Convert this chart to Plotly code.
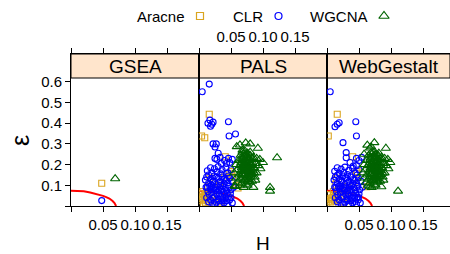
import plotly.graph_objects as go

# ---------------- data ----------------
methods = ["GSEA", "PALS", "WebGestalt"]
networks = ["Aracne", "CLR", "WGCNA"]
x_tick_vals = [0.0, 0.05, 0.10, 0.15, 0.20]
x_tick_text = ["", "0.05", "0.10", "0.15", ""]
y_tick_vals = [0.0, 0.1, 0.2, 0.3, 0.4, 0.5, 0.6]
y_tick_text = ["", "0.1", "0.2", "0.3", "0.4", "0.5", "0.6"]

# boundary curve (same in each panel)
curve_H = [0.0, 0.01, 0.02, 0.03, 0.04, 0.05, 0.055, 0.06, 0.065, 0.068, 0.0705]
curve_eps = [0.074, 0.0735, 0.071, 0.065, 0.058, 0.049, 0.043, 0.036, 0.024, 0.014, 0.0]

# GSEA
gsea_aracne_H = [0.048]
gsea_aracne_eps = [0.110]
gsea_clr_H = [0.048]
gsea_clr_eps = [0.026]
gsea_wgcna_H = [0.069]
gsea_wgcna_eps = [0.132]

# PALS
pals_aracne_H = [0.016, 0.004, 0.009, 0.041, 0.051, 0.017, 0.061, 0.058, 0.003, 0.006, 0.008, 0.010,
                 0.004, 0.012, 0.015, 0.018, 0.020, 0.006, 0.022, 0.025, 0.010, 0.028, 0.030, 0.014,
                 0.035, 0.007, 0.045, 0.040, 0.032, 0.048, 0.052, 0.005, 0.009, 0.013]
pals_aracne_eps = [0.443, 0.338, 0.330, 0.238, 0.166, 0.135, 0.087, 0.100, 0.060, 0.045, 0.030, 0.055,
                   0.025, 0.040, 0.020, 0.065, 0.035, 0.070, 0.050, 0.025, 0.015, 0.080, 0.045, 0.095,
                   0.020, 0.010, 0.060, 0.140, 0.100, 0.155, 0.140, 0.035, 0.050, 0.060]
pals_clr_H = [0.005, 0.016, 0.017, 0.014, 0.020, 0.022, 0.018, 0.046, 0.047, 0.057, 0.022, 0.027,
              0.025, 0.030, 0.025, 0.028, 0.033, 0.040, 0.046, 0.052, 0.048, 0.043, 0.035,
              0.018, 0.024, 0.030, 0.036, 0.042, 0.028, 0.020, 0.034, 0.045, 0.013, 0.050,
              0.012, 0.018, 0.024, 0.030, 0.036, 0.042, 0.048, 0.015, 0.021, 0.027, 0.033, 0.039,
              0.045, 0.052, 0.010,
              0.011, 0.017, 0.023, 0.029, 0.035, 0.041, 0.047, 0.014, 0.020, 0.026, 0.032, 0.038,
              0.044, 0.050, 0.054,
              0.012, 0.018, 0.024, 0.030, 0.036, 0.042, 0.048, 0.021, 0.027, 0.033, 0.039, 0.045,
              0.015, 0.052,
              0.015, 0.022, 0.028, 0.034, 0.040, 0.046, 0.019, 0.025, 0.031, 0.037, 0.043, 0.049,
              0.016, 0.022, 0.028, 0.034, 0.040, 0.046, 0.019, 0.013, 0.025, 0.031, 0.037, 0.043,
              0.050]
pals_clr_eps = [0.552, 0.589, 0.415, 0.400, 0.395, 0.405, 0.385, 0.407, 0.338, 0.348, 0.300, 0.300,
                0.285, 0.255, 0.230, 0.225, 0.235, 0.220, 0.230, 0.225, 0.210, 0.205, 0.205,
                0.185, 0.180, 0.190, 0.175, 0.185, 0.165, 0.160, 0.155, 0.160, 0.170, 0.175,
                0.140, 0.130, 0.145, 0.135, 0.140, 0.125, 0.135, 0.110, 0.115, 0.105, 0.118, 0.108,
                0.112, 0.120, 0.125,
                0.090, 0.095, 0.085, 0.092, 0.080, 0.088, 0.095, 0.070, 0.065, 0.075, 0.060, 0.070,
                0.062, 0.078, 0.090,
                0.040, 0.030, 0.045, 0.035, 0.025, 0.040, 0.030, 0.012, 0.018, 0.008, 0.015, 0.010,
                0.020, 0.015,
                0.150, 0.120, 0.140, 0.100, 0.130, 0.145, 0.100, 0.090, 0.075, 0.095, 0.075, 0.060,
                0.055, 0.040, 0.055, 0.045, 0.055, 0.045, 0.080, 0.090, 0.005, 0.025, 0.035, 0.025,
                0.040]
pals_wgcna_H = [0.059, 0.064, 0.073, 0.068, 0.092, 0.122, 0.111, 0.111, 0.085, 0.056, 0.080,
                0.065, 0.070, 0.075, 0.080, 0.085, 0.090, 0.095, 0.100,
                0.062, 0.068, 0.073, 0.078, 0.083, 0.088, 0.093, 0.058,
                0.064, 0.070, 0.076, 0.081, 0.086, 0.096, 0.060, 0.066,
                0.072, 0.078, 0.084, 0.090, 0.055, 0.063, 0.069, 0.075,
                0.081, 0.087, 0.058, 0.065, 0.071, 0.077, 0.083, 0.060,
                0.067, 0.073, 0.079, 0.057, 0.064, 0.070, 0.076, 0.088,
                0.068, 0.072, 0.076, 0.070, 0.074, 0.078, 0.067, 0.071, 0.075, 0.079,
                0.069, 0.073, 0.077, 0.081, 0.067, 0.071, 0.075, 0.079, 0.083, 0.069,
                0.073, 0.077, 0.081, 0.070, 0.074, 0.078, 0.072, 0.076, 0.080, 0.082,
                0.084, 0.086, 0.068, 0.066, 0.074, 0.080, 0.072, 0.076, 0.070, 0.078]
pals_wgcna_eps = [0.287, 0.295, 0.305, 0.270, 0.279, 0.233, 0.090, 0.072, 0.090, 0.097, 0.300,
                  0.245, 0.250, 0.240, 0.245, 0.235, 0.230, 0.225, 0.210,
                  0.220, 0.225, 0.215, 0.220, 0.210, 0.205, 0.195, 0.200,
                  0.195, 0.200, 0.190, 0.195, 0.185, 0.180, 0.175, 0.170,
                  0.180, 0.165, 0.170, 0.160, 0.160, 0.150, 0.155, 0.145,
                  0.150, 0.140, 0.135, 0.130, 0.125, 0.135, 0.120, 0.115,
                  0.110, 0.105, 0.115, 0.095, 0.100, 0.090, 0.100, 0.125,
                  0.260, 0.265, 0.255, 0.240, 0.235, 0.230, 0.230, 0.220, 0.210, 0.205,
                  0.205, 0.195, 0.185, 0.180, 0.185, 0.175, 0.170, 0.160, 0.155, 0.165,
                  0.155, 0.150, 0.140, 0.145, 0.135, 0.128, 0.125, 0.118, 0.170, 0.200,
                  0.225, 0.160, 0.150, 0.210, 0.250, 0.260, 0.185, 0.200, 0.190, 0.175]

# WebGestalt
web_aracne_H = [0.016, 0.002, 0.040, 0.047, 0.015, 0.046, 0.062, 0.004, 0.008, 0.010, 0.012,
                0.006, 0.015, 0.018, 0.020, 0.022, 0.025, 0.028, 0.030, 0.013, 0.034, 0.009,
                0.038, 0.026, 0.017, 0.042, 0.031, 0.005, 0.011, 0.007]
web_aracne_eps = [0.443, 0.338, 0.238, 0.166, 0.134, 0.158, 0.093, 0.055, 0.040, 0.070, 0.025,
                  0.020, 0.060, 0.030, 0.080, 0.045, 0.020, 0.070, 0.040, 0.105, 0.025, 0.012,
                  0.065, 0.095, 0.050, 0.110, 0.085, 0.035, 0.050, 0.030]
web_clr_H = [0.005, 0.019, 0.016, 0.0125, 0.045, 0.046, 0.025, 0.030, 0.030, 0.046, 0.050, 0.054,
             0.041, 0.036,
             0.016, 0.022, 0.028, 0.034, 0.040, 0.046, 0.026, 0.019, 0.032, 0.044, 0.012, 0.050,
             0.013, 0.019, 0.025, 0.031, 0.037, 0.043, 0.049, 0.016, 0.022, 0.028, 0.034, 0.040,
             0.046, 0.053, 0.011,
             0.012, 0.018, 0.024, 0.030, 0.036, 0.042, 0.048, 0.015, 0.021, 0.027, 0.033, 0.039,
             0.045, 0.051, 0.055,
             0.013, 0.019, 0.025, 0.031, 0.037, 0.043, 0.049, 0.022, 0.028, 0.034, 0.040, 0.046,
             0.016, 0.052,
             0.016, 0.023, 0.029, 0.035, 0.041, 0.047, 0.020, 0.026, 0.032, 0.038, 0.044, 0.050,
             0.017, 0.023, 0.029, 0.035, 0.041, 0.047, 0.020, 0.014, 0.026, 0.032, 0.038, 0.044,
             0.049]
web_clr_eps = [0.552, 0.402, 0.395, 0.383, 0.407, 0.338, 0.306, 0.258, 0.233, 0.230, 0.220, 0.235,
               0.193, 0.210,
               0.185, 0.178, 0.188, 0.172, 0.182, 0.195, 0.162, 0.158, 0.152, 0.160, 0.168, 0.175,
               0.140, 0.130, 0.145, 0.135, 0.140, 0.125, 0.135, 0.110, 0.115, 0.105, 0.118, 0.108,
               0.112, 0.120, 0.125,
               0.090, 0.095, 0.085, 0.092, 0.080, 0.088, 0.095, 0.070, 0.065, 0.075, 0.060, 0.070,
               0.062, 0.078, 0.090,
               0.040, 0.030, 0.045, 0.035, 0.025, 0.040, 0.030, 0.012, 0.018, 0.008, 0.015, 0.010,
               0.020, 0.015,
               0.148, 0.122, 0.138, 0.102, 0.128, 0.150, 0.098, 0.088, 0.073, 0.097, 0.077, 0.058,
               0.053, 0.042, 0.057, 0.047, 0.052, 0.043, 0.082, 0.088, 0.006, 0.027, 0.037, 0.022,
               0.042]
web_wgcna_H = [0.063, 0.074, 0.067, 0.069, 0.092, 0.111, 0.085, 0.067, 0.058,
               0.065, 0.070, 0.075, 0.080, 0.085, 0.090, 0.095, 0.099,
               0.062, 0.068, 0.073, 0.078, 0.083, 0.088, 0.093, 0.058,
               0.064, 0.070, 0.076, 0.081, 0.086, 0.096, 0.060, 0.066,
               0.072, 0.078, 0.084, 0.090, 0.056, 0.063, 0.069, 0.075,
               0.081, 0.087, 0.058, 0.065, 0.071, 0.077, 0.083, 0.061,
               0.067, 0.073, 0.079, 0.064, 0.070, 0.076, 0.088,
               0.069, 0.073, 0.077, 0.071, 0.075, 0.079, 0.068, 0.072, 0.076, 0.080,
               0.070, 0.074, 0.078, 0.082, 0.068, 0.072, 0.076, 0.080, 0.084, 0.070,
               0.074, 0.078, 0.082, 0.071, 0.075, 0.079, 0.073, 0.077, 0.081, 0.083,
               0.085, 0.087, 0.069, 0.067, 0.075, 0.081, 0.073, 0.077, 0.071, 0.079]
web_wgcna_eps = [0.294, 0.306, 0.280, 0.286, 0.279, 0.072, 0.093, 0.093, 0.250,
                 0.245, 0.250, 0.240, 0.245, 0.235, 0.230, 0.225, 0.210,
                 0.220, 0.225, 0.215, 0.220, 0.210, 0.205, 0.195, 0.200,
                 0.195, 0.200, 0.190, 0.195, 0.185, 0.180, 0.175, 0.170,
                 0.180, 0.165, 0.170, 0.160, 0.160, 0.150, 0.155, 0.145,
                 0.150, 0.140, 0.135, 0.130, 0.125, 0.135, 0.120, 0.115,
                 0.110, 0.105, 0.115, 0.100, 0.090, 0.100, 0.125,
                 0.258, 0.262, 0.252, 0.238, 0.233, 0.228, 0.232, 0.218, 0.212, 0.203,
                 0.207, 0.193, 0.187, 0.178, 0.183, 0.177, 0.168, 0.162, 0.153, 0.163,
                 0.157, 0.148, 0.142, 0.143, 0.137, 0.130, 0.123, 0.120, 0.172, 0.198,
                 0.222, 0.158, 0.152, 0.208, 0.248, 0.255, 0.183, 0.202, 0.188, 0.173]

panel_data = {
    "GSEA": {"Aracne": (gsea_aracne_H, gsea_aracne_eps), "CLR": (gsea_clr_H, gsea_clr_eps),
             "WGCNA": (gsea_wgcna_H, gsea_wgcna_eps)},
    "PALS": {"Aracne": (pals_aracne_H, pals_aracne_eps), "CLR": (pals_clr_H, pals_clr_eps),
             "WGCNA": (pals_wgcna_H, pals_wgcna_eps)},
    "WebGestalt": {"Aracne": (web_aracne_H, web_aracne_eps), "CLR": (web_clr_H, web_clr_eps),
                   "WGCNA": (web_wgcna_H, web_wgcna_eps)},
}

# ---------------- styling ----------------
W, HT = 450, 254
FONT = "Liberation Sans, Arial, Helvetica, sans-serif"
styles = {
    "Aracne": dict(symbol="square-open", color="#DAA520", size=6),
    "CLR": dict(symbol="circle-open", color="#0000FF", size=6),
    "WGCNA": dict(symbol="triangle-up-open", color="#006400", size=8),
}

def fx(p):
    return p / W

def fy(p):
    return 1 - p / HT

panel_px = [(71, 199), (199, 327), (327, 450)]
scale_x = 640.0   # px per unit H
scale_y = 207.0   # px per unit eps
y_bot_px, y_top_px, strip_bot_px = 206, 54, 78
y_range = [0.0, (y_bot_px - y_top_px) / scale_y]

fig = go.Figure()

for i, m in enumerate(methods):
    xa = "x" if i == 0 else f"x{i+1}"
    ya = "y" if i == 0 else f"y{i+1}"
    fig.add_trace(go.Scatter(x=curve_H, y=curve_eps, mode="lines",
                             line=dict(color="red", width=2), xaxis=xa, yaxis=ya,
                             showlegend=False, hoverinfo="skip"))
    for n in networks:
        hx, ey = panel_data[m][n]
        s = styles[n]
        fig.add_trace(go.Scatter(x=hx, y=ey, mode="markers", xaxis=xa, yaxis=ya,
                                 showlegend=False,
                                 marker=dict(symbol=s["symbol"], size=s["size"],
                                             color=s["color"], line=dict(width=1.1, color=s["color"]))))

layout = dict(width=W, height=HT, margin=dict(l=0, r=0, t=0, b=0),
              paper_bgcolor="white", plot_bgcolor="rgba(0,0,0,0)",
              font=dict(family=FONT, color="black"), showlegend=False)

shapes = []
annotations = []
for i, m in enumerate(methods):
    x0, x1 = panel_px[i]
    xk = "xaxis" if i == 0 else f"xaxis{i+1}"
    yk = "yaxis" if i == 0 else f"yaxis{i+1}"
    ykey = "y" if i == 0 else f"y{i+1}"
    xkey = "x" if i == 0 else f"x{i+1}"
    layout[xk] = dict(domain=[fx(x0), fx(x1)], range=[0, (x1 - x0) / scale_x], anchor=ykey,
                      tickmode="array", tickvals=x_tick_vals, ticktext=x_tick_text,
                      ticks="outside", ticklen=5, tickcolor="black", tickwidth=1,
                      showline=True, linecolor="black", linewidth=1, mirror="ticks",
                      showgrid=False, zeroline=False,
                      side="top" if i == 1 else "bottom",
                      showticklabels=True,
                      tickfont=dict(size=15, family=FONT, color="black"))
    ya_d = dict(domain=[fy(y_bot_px), fy(y_top_px)], range=y_range, anchor=xkey,
                showgrid=False, zeroline=False, showline=True, linecolor="black", linewidth=1,
                mirror=(i != 2))
    if i == 0:
        ya_d.update(tickmode="array", tickvals=y_tick_vals, ticktext=y_tick_text,
                    ticks="outside", ticklen=5, tickcolor="black", tickwidth=1,
                    tickfont=dict(size=15, family=FONT, color="black"))
    else:
        ya_d.update(showticklabels=False, ticks="")
    layout[yk] = ya_d
    shapes.append(dict(type="rect", xref="paper", yref="paper", x0=fx(x0), x1=fx(x1),
                       y0=fy(strip_bot_px), y1=fy(y_top_px), fillcolor="#FFE5CC",
                       line=dict(color="black", width=1), layer="below"))
    annotations.append(dict(xref="paper", yref="paper", x=fx((x0 + min(x1, x0 + 128)) / 2),
                            y=fy(66.5), text=m, showarrow=False, xanchor="center", yanchor="middle",
                            font=dict(size=19, family=FONT, color="black")))

# axis titles
annotations.append(dict(xref="paper", yref="paper", x=fx(263), y=fy(243), text="H",
                        showarrow=False, xanchor="center", yanchor="middle",
                        font=dict(size=19, family=FONT, color="black")))
annotations.append(dict(xref="paper", yref="paper", x=fx(20), y=fy(141), text="ε",
                        showarrow=False, xanchor="center", yanchor="middle", textangle=-90,
                        font=dict(size=25, family=FONT, color="black")))

# legend: text then key to the right
legend_text_right = {"Aracne": 184.5, "CLR": 262.5, "WGCNA": 368}
legend_key_x = {"Aracne": 200, "CLR": 278.5, "WGCNA": 384}
for n in networks:
    annotations.append(dict(xref="paper", yref="paper", x=fx(legend_text_right[n]), y=fy(16),
                            text=n, showarrow=False, xanchor="right", yanchor="middle",
                            xshift=2, font=dict(size=15, family=FONT, color="black")))
    s = styles[n]
    fig.add_trace(go.Scatter(x=[legend_key_x[n]], y=[16], mode="markers", xaxis="x4", yaxis="y4",
                             showlegend=False, hoverinfo="skip",
                             marker=dict(symbol=s["symbol"], size=s["size"] + 1, color=s["color"],
                                         line=dict(width=1.2, color=s["color"]))))

layout["xaxis4"] = dict(domain=[0, 1], range=[0, W], visible=False, anchor="y4")
layout["yaxis4"] = dict(domain=[0, 1], range=[HT, 0], visible=False, anchor="x4")
layout["shapes"] = shapes
layout["annotations"] = annotations

fig.update_layout(**layout)
fig.write_html("out.html", config={"displayModeBar": False},
               post_script="document.body.style.margin='0';document.body.style.overflow='hidden';")
